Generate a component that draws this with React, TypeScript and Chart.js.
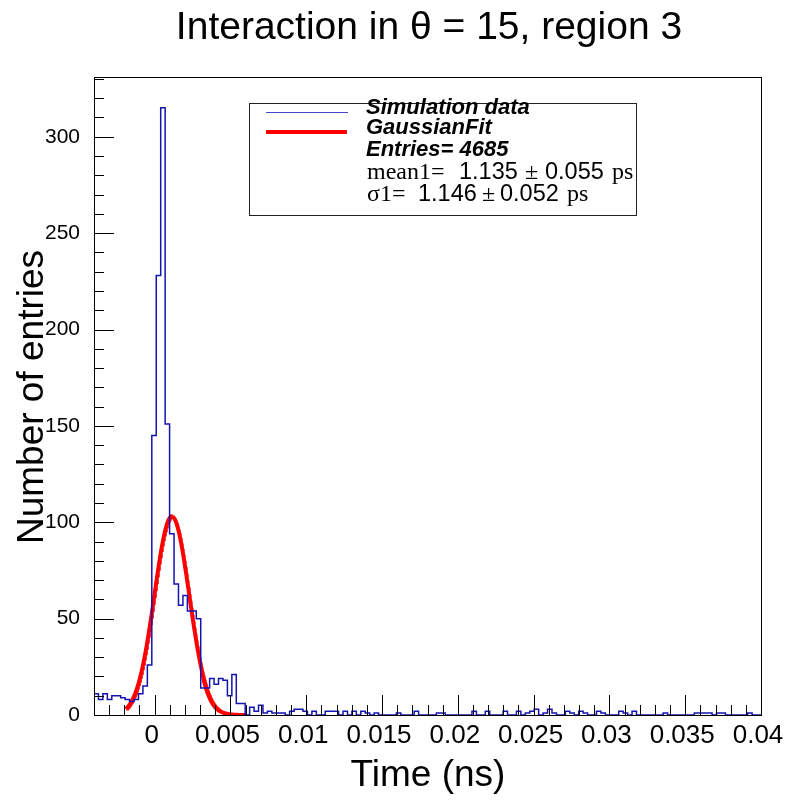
import { useEffect, useRef } from "react";
import { Chart, registerables } from "chart.js";

Chart.register(...registerables);

// Histogram binning
const X_MIN = -0.004;
const X_MAX = 0.04;
const Y_MIN = 0;
const Y_MAX = 331;
const BIN_COUNT = 150;

// Entries per bin (150 bins from -0.004 ns to 0.04 ns)
const counts: number[] = [
  11, 8, 11, 8, 10, 10, 9, 8, 7, 8,
  11, 15, 26, 145, 228, 315, 151, 94, 68, 57,
  62, 54, 54, 50, 14, 14, 19, 16, 19, 18,
  10, 21, 6, 6, 0, 4, 2, 5, 1, 2,
  1, 1, 1, 0, 2, 3, 3, 2, 0, 2,
  0, 0, 2, 2, 2, 0, 2, 0, 2, 0,
  2, 1, 0, 1, 0, 0, 0, 0, 1, 0,
  0, 0, 2, 0, 0, 0, 0, 1, 1, 0,
  0, 0, 0, 0, 0, 2, 0, 0, 2, 0,
  0, 0, 2, 0, 0, 2, 0, 1, 2, 3,
  0, 1, 3, 1, 0, 0, 2, 1, 0, 2,
  1, 0, 0, 2, 1, 0, 0, 0, 2, 1,
  0, 2, 0, 0, 0, 0, 0, 0, 1, 0,
  0, 0, 0, 0, 0, 1, 1, 1, 1, 0,
  1, 1, 0, 0, 0, 0, 0, 1, 0, 0,
];

// Gaussian fit result
const fitMean = 0.001135;
const fitSigma = 0.001146;
const fitAmplitude = 103;
const fitFrom = -0.0019;
const fitTo = 0.006;

// Axis ticks
const xTickValues = [0, 0.005, 0.01, 0.015, 0.02, 0.025, 0.03, 0.035, 0.04];
const xTickLabels = ["0", "0.005", "0.01", "0.015", "0.02", "0.025", "0.03", "0.035", "0.04"];
const yTickValues = [0, 50, 100, 150, 200, 250, 300];
const yTickLabels = ["0", "50", "100", "150", "200", "250", "300"];
const xMinorStep = 0.001;
const yMinorStep = 10;

// Texts
const titleText = "Interaction in \u03b8 = 15, region 3";
const xTitle = "Time (ns)";
const yTitle = "Number of entries";
const legendData = "Simulation data";
const legendFit = "GaussianFit";
const legendEntries = "Entries= 4685";
const meanLine = { name: "mean1=", value: "1.135", error: "0.055", unit: "ps" };
const sigmaLine = { name: "\u03c31=", value: "1.146", error: "0.052", unit: "ps" };

const SANS = '"Liberation Sans", Arial, Helvetica, sans-serif';
const SERIF = '"Liberation Serif", "Times New Roman", serif';
const HIST_COLOR = "rgb(20, 20, 175)";
const FIT_COLOR = "rgb(255, 0, 0)";

function histogramPoints() {
  const w = (X_MAX - X_MIN) / BIN_COUNT;
  const pts = counts.map((c, i) => ({ x: X_MIN + i * w, y: c }));
  pts.push({ x: X_MAX, y: counts[counts.length - 1] });
  return pts;
}

function fitPoints() {
  const pts: { x: number; y: number }[] = [];
  const n = 240;
  for (let i = 0; i <= n; i++) {
    const x = fitFrom + ((fitTo - fitFrom) * i) / n;
    const z = (x - fitMean) / fitSigma;
    pts.push({ x, y: fitAmplitude * Math.exp(-0.5 * z * z) });
  }
  return pts;
}

const framePlugin = {
  id: "rootFrame",
  afterDatasetsDraw(chart: any) {
    const { ctx, chartArea: a, scales } = chart;
    const xs = scales.x;
    const ys = scales.y;
    ctx.save();
    ctx.strokeStyle = "#000";
    ctx.lineWidth = 1;
    ctx.strokeRect(Math.round(a.left) + 0.5, Math.round(a.top) + 0.5, Math.round(a.right - a.left), Math.round(a.bottom - a.top));

    ctx.beginPath();
    // x axis ticks (inside the frame)
    for (let k = 0; ; k++) {
      const v = X_MIN + k * xMinorStep;
      if (v > X_MAX + 1e-9) break;
      const px = Math.round(xs.getPixelForValue(v)) + 0.5;
      const major = xTickValues.some((t) => Math.abs(t - v) < 1e-9);
      const len = major ? 20 : 10;
      ctx.moveTo(px, a.bottom);
      ctx.lineTo(px, a.bottom - len);
    }
    // y axis ticks
    for (let k = 0; ; k++) {
      const v = Y_MIN + k * yMinorStep;
      if (v > Y_MAX) break;
      const py = Math.round(ys.getPixelForValue(v)) + 0.5;
      const major = yTickValues.includes(v);
      const len = major ? 20 : 10;
      ctx.moveTo(a.left, py);
      ctx.lineTo(a.left + len, py);
    }
    ctx.stroke();
    ctx.restore();
  },
  afterDraw(chart: any) {
    const { ctx } = chart;
    ctx.save();
    ctx.fillStyle = "#000";

    // Title
    ctx.font = `39px ${SANS}`;
    ctx.textAlign = "center";
    ctx.textBaseline = "middle";
    ctx.fillText(titleText, 429, 28);

    // Axis titles
    ctx.font = `37px ${SANS}`;
    ctx.fillText(xTitle, 428, 776);
    ctx.save();
    ctx.translate(33, 397);
    ctx.rotate(-Math.PI / 2);
    ctx.fillText(yTitle, 0, 0);
    ctx.restore();

    // Legend box
    const bx = 249, by = 103, bw = 387, bh = 112;
    ctx.fillStyle = "#fff";
    ctx.fillRect(bx, by, bw, bh);
    ctx.strokeStyle = "#222";
    ctx.lineWidth = 1;
    ctx.strokeRect(bx + 0.5, by + 0.5, bw, bh);

    ctx.beginPath();
    ctx.strokeStyle = "rgb(70, 70, 200)";
    ctx.lineWidth = 1;
    ctx.moveTo(266, 112.5);
    ctx.lineTo(348, 112.5);
    ctx.stroke();
    ctx.beginPath();
    ctx.strokeStyle = FIT_COLOR;
    ctx.lineWidth = 4;
    ctx.moveTo(266, 132);
    ctx.lineTo(347, 132);
    ctx.stroke();

    ctx.fillStyle = "#000";
    ctx.textAlign = "left";
    ctx.textBaseline = "middle";
    ctx.font = `italic bold 22px ${SANS}`;
    ctx.fillText(legendData, 366, 108);
    ctx.fillText(legendFit, 366, 128);
    ctx.fillText(legendEntries, 366, 150);

    const serif = `24px ${SERIF}`;
    const sans = `23.5px ${SANS}`;
    const drawLine = (
      parts: { name: string; value: string; error: string; unit: string },
      xs: number[],
      y: number
    ) => {
      ctx.font = serif;
      ctx.fillText(parts.name, xs[0], y);
      ctx.font = sans;
      ctx.fillText(parts.value, xs[1], y);
      ctx.font = serif;
      ctx.fillText("\u00b1", xs[2], y);
      ctx.font = sans;
      ctx.fillText(parts.error, xs[3], y);
      ctx.font = serif;
      ctx.fillText(parts.unit, xs[4], y);
    };
    drawLine(meanLine, [367, 459, 525, 545, 612], 173);
    drawLine(sigmaLine, [367, 418, 482, 500, 567], 195);
    ctx.restore();
  },
};

export default function App() {
  const canvasRef = useRef<HTMLCanvasElement | null>(null);

  useEffect(() => {
    const canvas = canvasRef.current;
    if (!canvas) return;
    const chart = new Chart(canvas, {
      type: "line",
      data: {
        datasets: [
          {
            label: legendData,
            data: histogramPoints(),
            borderColor: HIST_COLOR,
            borderWidth: 1.5,
            stepped: true,
            pointRadius: 0,
            fill: false,
          },
          {
            label: legendFit,
            data: fitPoints(),
            borderColor: FIT_COLOR,
            borderWidth: 4,
            pointRadius: 0,
            tension: 0,
            fill: false,
          },
        ],
      },
      options: {
        animation: false,
        responsive: false,
        devicePixelRatio: 1,
        layout: { padding: { top: 77, right: 26, left: 0, bottom: 0 } },
        plugins: {
          legend: { display: false },
          title: { display: false },
          tooltip: { enabled: false },
        },
        scales: {
          x: {
            type: "linear",
            min: X_MIN,
            max: X_MAX,
            grid: { display: false, drawTicks: false },
            border: { display: false },
            ticks: {
              color: "#000",
              font: { family: SANS, size: 26 },
              padding: 5,
              labelOffset: -3,
              autoSkip: false,
              maxRotation: 0,
              minRotation: 0,
              callback: (_v: any, i: number) => xTickLabels[i],
            },
            afterBuildTicks: (s: any) => {
              s.ticks = xTickValues.map((value) => ({ value }));
            },
            afterFit: (s: any) => {
              s.height = 85;
              s.paddingLeft = 0;
              s.paddingRight = 0;
            },
          },
          y: {
            type: "linear",
            min: Y_MIN,
            max: Y_MAX,
            grid: { display: false, drawTicks: false },
            border: { display: false },
            ticks: {
              color: "#000",
              font: { family: SANS, size: 21 },
              padding: 14,
              callback: (_v: any, i: number) => yTickLabels[i],
            },
            afterBuildTicks: (s: any) => {
              s.ticks = yTickValues.map((value) => ({ value }));
            },
            afterFit: (s: any) => {
              s.width = 94;
              s.paddingTop = 0;
              s.paddingBottom = 0;
            },
          },
        },
      },
      plugins: [framePlugin],
    });
    return () => chart.destroy();
  }, []);

  return (
    <div style={{ position: "fixed", left: 0, top: 0, width: 787, height: 800, background: "#fff" }}>
      <canvas ref={canvasRef} width={787} height={800} />
    </div>
  );
}
